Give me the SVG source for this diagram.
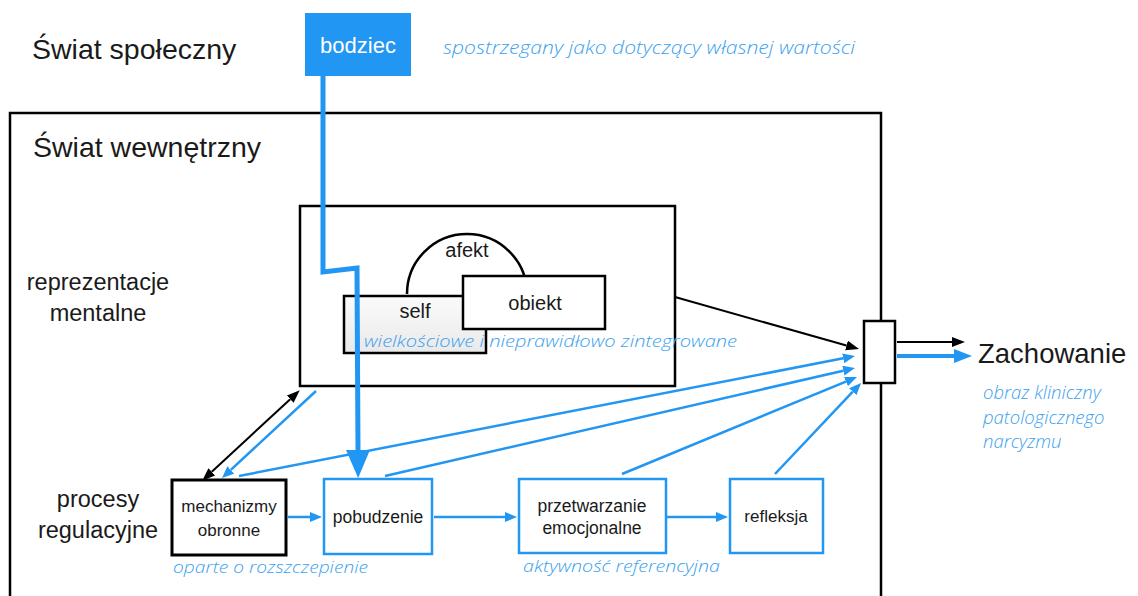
<svg xmlns="http://www.w3.org/2000/svg" width="1138" height="596" viewBox="0 0 1138 596">
  <style>
    .lbl { font-family: "Liberation Sans", Arial, sans-serif; fill: #1a1a1a; }
    .note { font-family: "Open Sans", "Liberation Sans", sans-serif; font-style: italic; font-weight: 300; fill: #3a9ff0; }
    .box { fill: #ffffff; stroke: #000000; stroke-width: 2.5; }
    .bbox { fill: #ffffff; stroke: #2196f3; stroke-width: 2.5; }
    .ln-k { stroke: #000000; stroke-width: 2; fill: none; }
    .ln-b { stroke: #2196f3; stroke-width: 2.5; fill: none; }
  </style>
  <defs>
    <linearGradient id="selfFill" x1="0" y1="0" x2="0" y2="1">
      <stop offset="0" stop-color="#fbfbfb"/>
      <stop offset="1" stop-color="#e9e9e9"/>
    </linearGradient>
    <marker id="headK" markerUnits="userSpaceOnUse" markerWidth="14" markerHeight="12" refX="0" refY="5" orient="auto-start-reverse">
      <path d="M0,0 L13,5 L0,10 Z" fill="#000000"/>
    </marker>
    <marker id="headB" markerUnits="userSpaceOnUse" markerWidth="13" markerHeight="12" refX="0" refY="5" orient="auto">
      <path d="M0,0 L12,5 L0,10 Z" fill="#2196f3"/>
    </marker>
    <marker id="headBL" markerUnits="userSpaceOnUse" markerWidth="19" markerHeight="16" refX="0" refY="7" orient="auto">
      <path d="M0,0 L18,7 L0,14 Z" fill="#2196f3"/>
    </marker>
    <marker id="headBX" markerUnits="userSpaceOnUse" markerWidth="29" markerHeight="26" refX="0" refY="12" orient="auto">
      <path d="M0,0 L28,12 L0,24 Z" fill="#2196f3"/>
    </marker>
  </defs>

  <rect width="1138" height="596" fill="#ffffff"/>

  <!-- worlds -->
  <text class="lbl" x="32" y="59" font-size="28.5">Świat społeczny</text>
  <rect id="frame-inner" x="10" y="113" width="871" height="500" fill="none" stroke="#000000" stroke-width="2.5"/>
  <text class="lbl" x="33" y="157" font-size="28.5">Świat wewnętrzny</text>

  <!-- row labels -->
  <text class="lbl" font-size="23.5" text-anchor="middle"><tspan x="98" y="290">reprezentacje</tspan><tspan x="98" y="321">mentalne</tspan></text>
  <text class="lbl" font-size="23.5" text-anchor="middle"><tspan x="98" y="507">procesy</tspan><tspan x="98" y="538">regulacyjne</tspan></text>

  <!-- stimulus -->
  <g id="bodziec">
    <rect x="305" y="13" width="106" height="63" fill="#2196f3"/>
    <text x="358" y="53" font-size="22" text-anchor="middle" font-family="Liberation Sans, Arial, sans-serif" fill="#ffffff">bodziec</text>
    <text class="note" x="443" y="54" font-size="18" textLength="412" lengthAdjust="spacingAndGlyphs">spostrzegany jako dotyczący własnej wartości</text>
  </g>

  <!-- mental representations -->
  <g id="reprezentacje">
    <rect class="box" x="300" y="206" width="375" height="180"/>
    <path d="M407,294 A60,60 0 0 1 527,294" fill="none" stroke="#000000" stroke-width="2.5"/>
    <text class="lbl" x="467" y="257" font-size="20" text-anchor="middle">afekt</text>
  </g>
  <g id="self">
    <rect x="344" y="296" width="142" height="57" fill="url(#selfFill)" stroke="#000000" stroke-width="2.5"/>
    <text class="lbl" x="415" y="318" font-size="20" text-anchor="middle">self</text>
  </g>
  <g id="obiekt">
    <rect class="box" x="463" y="276" width="142" height="53"/>
    <text class="lbl" x="535" y="310" font-size="20" text-anchor="middle">obiekt</text>
  </g>
  <text class="note" x="364" y="347" font-size="17" textLength="373" lengthAdjust="spacingAndGlyphs">wielkościowe i nieprawidłowo zintegrowane</text>

  <!-- regulation processes -->
  <g id="mechanizmy">
    <rect x="172" y="480" width="114" height="75" fill="#ffffff" stroke="#000000" stroke-width="3"/>
    <text class="lbl" font-size="17" text-anchor="middle"><tspan x="229" y="512">mechanizmy</tspan><tspan x="229" y="536">obronne</tspan></text>
    <text class="note" x="173" y="573" font-size="17" textLength="195" lengthAdjust="spacingAndGlyphs">oparte o rozszczepienie</text>
  </g>
  <g id="pobudzenie">
    <rect class="bbox" x="324" y="479" width="108" height="75"/>
    <text class="lbl" x="378" y="523" font-size="17.5" text-anchor="middle">pobudzenie</text>
  </g>
  <g id="przetwarzanie">
    <rect class="bbox" x="519" y="479" width="147" height="74"/>
    <text class="lbl" font-size="17.5" text-anchor="middle"><tspan x="592" y="512">przetwarzanie</tspan><tspan x="592" y="534">emocjonalne</tspan></text>
    <text class="note" x="523" y="572" font-size="17" textLength="197" lengthAdjust="spacingAndGlyphs">aktywność referencyjna</text>
  </g>
  <g id="refleksja">
    <rect class="bbox" x="730" y="479" width="93" height="74"/>
    <text class="lbl" x="776" y="522" font-size="17" text-anchor="middle">refleksja</text>
  </g>

  <!-- connectors -->
  <g id="connectors">
    <line class="ln-k" x1="675" y1="297" x2="846.5" y2="345.5" marker-end="url(#headK)"/>
    <line class="ln-b" x1="239" y1="476" x2="843.2" y2="358.3" marker-end="url(#headB)"/>
    <line class="ln-b" x1="385" y1="476" x2="843.3" y2="370.7" marker-end="url(#headB)"/>
    <line class="ln-b" x1="622" y1="474" x2="845.9" y2="381.6" marker-end="url(#headB)"/>
    <line class="ln-b" x1="775" y1="474" x2="852.8" y2="391.7" marker-end="url(#headB)"/>
    <line class="ln-b" x1="316" y1="391" x2="230.8" y2="469.9" marker-end="url(#headB)"/>
    <line class="ln-k" x1="211.8" y1="471.8" x2="290.2" y2="399.2" marker-start="url(#headK)" marker-end="url(#headK)"/>
    <line class="ln-b" x1="287" y1="517" x2="310" y2="517" marker-end="url(#headB)"/>
    <line class="ln-b" x1="434" y1="517" x2="505" y2="517" marker-end="url(#headB)"/>
    <line class="ln-b" x1="667" y1="517" x2="716" y2="517" marker-end="url(#headB)"/>
    <line class="ln-k" x1="897" y1="342" x2="952" y2="342" marker-end="url(#headK)"/>
    <line x1="897" y1="356" x2="954" y2="356" stroke="#2196f3" stroke-width="4" marker-end="url(#headBL)"/>
    <path d="M323,76 L323,272 L357,268 L358,450" fill="none" stroke="#2196f3" stroke-width="5" stroke-linejoin="miter" marker-end="url(#headBX)"/>
  </g>

  <!-- behaviour gate -->
  <g id="brama">
    <rect class="box" x="864" y="321" width="31" height="62"/>
  </g>
  <g id="zachowanie">
    <text class="lbl" x="978" y="363" font-size="27.5">Zachowanie</text>
    <text class="note" font-size="18.5"><tspan x="983" y="399">obraz kliniczny</tspan><tspan x="983" y="424">patologicznego</tspan><tspan x="983" y="448">narcyzmu</tspan></text>
  </g>
</svg>
